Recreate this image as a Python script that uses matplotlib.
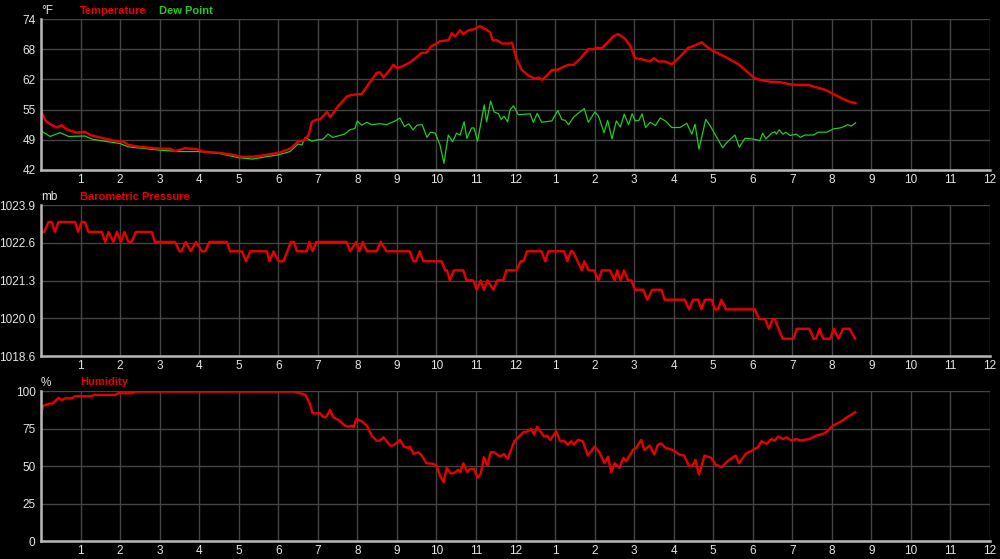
import matplotlib
matplotlib.use('Agg')
import matplotlib.pyplot as plt

# hours since midnight
temp_hours = [0.0, 0.1, 0.23, 0.4, 0.52, 0.65, 0.9, 1.11, 1.24, 1.49, 1.83, 2.08, 2.21, 2.5, 3.0,
              3.26, 3.39, 3.64, 3.94, 4.1, 4.53, 4.86, 5.03, 5.37, 5.71, 6.04, 6.3, 6.5, 6.63,
              6.77, 6.85, 6.97, 7.06, 7.23, 7.32, 7.53, 7.74, 7.86, 8.11, 8.32, 8.49, 8.57,
              8.66, 8.83, 8.91, 9.01, 9.17, 9.33, 9.5, 9.62, 9.75, 9.87, 10.0, 10.09, 10.3,
              10.39, 10.47, 10.6, 10.68, 10.81, 10.98, 11.1, 11.23, 11.36, 11.42, 11.53,
              11.66, 11.83, 11.91, 12.02, 12.16, 12.33, 12.5, 12.58, 12.67, 12.79, 12.92,
              13.05, 13.22, 13.34, 13.47, 13.64, 13.84, 13.97, 14.05, 14.18, 14.3, 14.47,
              14.6, 14.77, 14.9, 15.02, 15.23, 15.4, 15.5, 15.61, 15.78, 15.95, 16.16, 16.37,
              16.54, 16.71, 16.84, 17.01, 17.18, 17.39, 17.64, 17.85, 18.02, 18.18, 18.44,
              18.7, 18.9, 19.16, 19.41, 19.62, 19.83, 20.04, 20.25, 20.46, 20.6]
temperature = [54.7, 52.6, 51.7, 51.0, 51.5, 50.6, 49.9, 50.1, 49.4, 48.9, 48.2, 48.0, 47.3, 46.9,
               46.5, 46.5, 46.0, 46.6, 46.4, 45.9, 45.6, 45.2, 44.8, 44.8, 45.2, 45.7, 46.5,
               48.0, 48.2, 49.4, 52.2, 52.7, 52.7, 54.3, 53.2, 55.7, 57.6, 57.9, 58.1, 60.6,
               62.6, 62.7, 61.6, 63.3, 64.3, 63.6, 64.1, 64.8, 65.9, 66.8, 66.9, 68.2, 68.8,
               69.3, 69.5, 71.0, 70.3, 71.6, 70.8, 71.6, 71.9, 72.5, 71.9, 71.2, 69.5, 69.5,
               68.8, 68.8, 69.0, 65.7, 63.2, 62.0, 61.3, 61.6, 61.1, 62.0, 63.2, 63.2, 63.9,
               64.3, 64.3, 65.6, 67.6, 67.6, 67.9, 67.8, 68.8, 70.3, 70.8, 69.8, 68.3, 65.7,
               65.4, 65.0, 65.7, 65.0, 65.0, 64.4, 66.0, 67.9, 68.4, 69.1, 68.1, 67.2, 66.5,
               65.6, 64.4, 62.9, 61.6, 61.1, 60.7, 60.6, 60.2, 60.0, 60.0, 59.5, 59.0, 58.1,
               57.2, 56.4, 56.2]

dew_hours = [0.0, 0.23, 0.48, 0.7, 1.11, 1.3, 1.6, 2.0, 2.2, 3.0, 3.5, 4.0, 4.5, 5.0, 5.35, 5.7,
             6.0, 6.3, 6.5, 6.6, 6.68, 6.85, 7.0, 7.13, 7.26, 7.38, 7.55, 7.68, 7.81, 7.94, 8.0,
             8.11, 8.24, 8.36, 8.57, 8.74, 8.96, 9.08, 9.19, 9.3, 9.41, 9.51, 9.64, 9.76, 9.85,
             9.97, 10.09, 10.19, 10.3, 10.41, 10.51, 10.6, 10.7, 10.77, 10.89, 10.95, 11.04,
             11.21, 11.27, 11.37, 11.46, 11.57, 11.64, 11.71, 11.8, 11.86, 11.95, 12.07, 12.37,
             12.45, 12.55, 12.66, 12.92, 13.07, 13.17, 13.26, 13.34, 13.47, 13.6, 13.74, 13.84,
             14.01, 14.1, 14.24, 14.33, 14.44, 14.55, 14.65, 14.75, 14.86, 14.95, 15.03, 15.12,
             15.2, 15.29, 15.41, 15.54, 15.66, 15.79, 15.95, 16.16, 16.33, 16.46, 16.54, 16.64,
             16.81, 16.92, 17.09, 17.24, 17.34, 17.55, 17.66, 17.8, 17.97, 18.1, 18.18, 18.25,
             18.33, 18.48, 18.56, 18.6, 18.67, 18.76, 18.84, 18.94, 19.11, 19.2, 19.32, 19.53,
             19.66, 19.87, 20.04, 20.21, 20.34, 20.4, 20.49, 20.6]
dew_point = [50.3, 49.1, 49.9, 49.1, 49.2, 48.5, 48.1, 47.6, 46.9, 46.2, 45.9, 45.9, 45.5, 44.6,
             44.3, 44.8, 45.2, 45.9, 47.5, 47.3, 48.9, 48.1, 48.4, 48.5, 49.6, 48.9, 49.3, 49.6,
             50.5, 50.8, 52.4, 51.5, 52.1, 51.6, 51.8, 51.6, 52.4, 53.0, 51.2, 51.8, 50.5, 51.5,
             51.6, 48.9, 50.0, 49.8, 47.3, 43.4, 49.4, 48.0, 49.8, 49.4, 52.2, 48.7, 50.9, 50.9,
             48.1, 55.8, 52.2, 56.6, 54.3, 53.9, 52.7, 53.4, 52.2, 54.7, 55.6, 53.7, 53.9, 52.1,
             54.0, 52.1, 52.4, 54.6, 52.7, 52.5, 51.6, 53.2, 54.1, 55.0, 52.1, 54.3, 53.4, 49.9,
             52.5, 48.6, 52.4, 51.1, 53.8, 51.6, 53.9, 52.4, 52.5, 53.9, 51.0, 52.1, 51.4, 53.0,
             52.4, 51.0, 51.0, 51.9, 49.6, 51.7, 46.4, 52.7, 51.4, 48.9, 46.7, 47.8, 49.4, 46.8,
             48.7, 48.6, 48.4, 48.2, 49.8, 48.6, 49.8, 50.1, 49.6, 50.5, 49.6, 50.0, 49.3, 49.6,
             48.9, 49.4, 49.4, 50.0, 50.0, 50.7, 50.9, 51.3, 51.6, 51.3, 52.0]

pressure_hours = [0.0, 0.08, 0.19, 0.27, 0.35, 0.44, 0.86, 0.94, 1.03, 1.11, 1.2, 1.54, 1.62, 1.71,
                  1.83, 1.92, 2.02, 2.11, 2.21, 2.29, 2.4, 2.8, 2.88, 3.39, 3.5, 3.55, 3.66, 3.79,
                  3.92, 4.07, 4.15, 4.26, 4.7, 4.78, 5.08, 5.19, 5.29, 5.71, 5.78, 5.88, 6.01,
                  6.13, 6.23, 6.32, 6.4, 6.47, 6.72, 6.79, 6.87, 6.96, 7.73, 7.82, 7.97, 8.05,
                  8.14, 8.24, 8.49, 8.59, 8.74, 9.32, 9.42, 9.48, 9.58, 9.67, 10.13, 10.22, 10.27,
                  10.34, 10.44, 10.68, 10.76, 10.93, 11.02, 11.12, 11.2, 11.29, 11.44, 11.54,
                  11.69, 11.77, 12.02, 12.13, 12.2, 12.29, 12.66, 12.75, 12.83, 13.23, 13.31,
                  13.4, 13.45, 13.57, 13.68, 13.74, 13.85, 13.99, 14.1, 14.18, 14.39, 14.51,
                  14.57, 14.66, 14.74, 14.85, 14.93, 15.02, 15.23, 15.33, 15.46, 15.69, 15.77,
                  16.28, 16.39, 16.49, 16.62, 16.7, 16.79, 16.96, 17.04, 17.12, 17.21, 17.32,
                  18.05, 18.16, 18.31, 18.41, 18.5, 18.56, 18.65, 18.76, 19.03, 19.11, 19.43,
                  19.54, 19.6, 19.69, 19.78, 19.96, 20.05, 20.17, 20.28, 20.45, 20.59]
pressure = [1022.96, 1022.96, 1023.31, 1023.31, 1022.96, 1023.31, 1023.31, 1022.96, 1023.31,
            1023.31, 1022.96, 1022.96, 1022.61, 1022.96, 1022.61, 1022.96, 1022.61, 1022.96,
            1022.61, 1022.61, 1022.96, 1022.96, 1022.61, 1022.61, 1022.28, 1022.28, 1022.61,
            1022.28, 1022.61, 1022.28, 1022.28, 1022.61, 1022.61, 1022.28, 1022.28, 1021.93,
            1022.28, 1022.28, 1021.93, 1022.28, 1021.93, 1021.93, 1022.28, 1022.61, 1022.61,
            1022.28, 1022.28, 1022.61, 1022.28, 1022.61, 1022.61, 1022.28, 1022.61, 1022.28,
            1022.61, 1022.28, 1022.28, 1022.61, 1022.28, 1022.28, 1021.93, 1021.93, 1022.28,
            1021.93, 1021.93, 1021.61, 1021.61, 1021.26, 1021.61, 1021.61, 1021.26, 1021.26,
            1020.93, 1021.26, 1020.93, 1021.26, 1020.93, 1021.26, 1021.26, 1021.61, 1021.61,
            1021.93, 1021.93, 1022.28, 1022.28, 1021.93, 1022.28, 1022.28, 1021.93, 1022.28,
            1022.28, 1021.93, 1021.61, 1021.93, 1021.61, 1021.61, 1021.26, 1021.61, 1021.61,
            1021.26, 1021.61, 1021.26, 1021.61, 1021.26, 1021.26, 1020.93, 1020.93, 1020.58,
            1020.93, 1020.93, 1020.58, 1020.58, 1020.24, 1020.58, 1020.58, 1020.24, 1020.58,
            1020.58, 1020.24, 1020.24, 1020.58, 1020.24, 1020.24, 1019.90, 1019.90, 1019.56,
            1019.90, 1019.90, 1019.56, 1019.21, 1019.21, 1019.56, 1019.56, 1019.21, 1019.21,
            1019.56, 1019.21, 1019.21, 1019.56, 1019.21, 1019.56, 1019.56, 1019.21]

humid_hours = [0.0, 0.06, 0.19, 0.3, 0.44, 0.52, 0.61, 0.78, 0.86, 1.24, 1.37, 1.87, 1.96, 2.3,
               2.38, 6.42, 6.55, 6.68, 6.8, 6.87, 7.06, 7.14, 7.21, 7.31, 7.39, 7.52, 7.69, 7.77,
               7.86, 7.9, 7.98, 8.11, 8.24, 8.36, 8.49, 8.57, 8.66, 8.83, 8.91, 9.08, 9.18, 9.29,
               9.33, 9.42, 9.54, 9.63, 9.75, 9.92, 10.0, 10.09, 10.18, 10.26, 10.36, 10.44,
               10.55, 10.6, 10.68, 10.78, 10.85, 10.95, 11.04, 11.12, 11.2, 11.29, 11.37, 11.46,
               11.61, 11.71, 11.8, 11.97, 12.2, 12.29, 12.39, 12.47, 12.55, 12.72, 12.8, 12.88,
               13.03, 13.13, 13.24, 13.32, 13.41, 13.47, 13.58, 13.7, 13.83, 14.0, 14.12, 14.25,
               14.34, 14.42, 14.51, 14.63, 14.73, 14.8, 14.97, 15.05, 15.18, 15.26, 15.39,
               15.51, 15.6, 15.68, 15.8, 15.97, 16.14, 16.27, 16.38, 16.48, 16.55, 16.64, 16.78,
               16.95, 17.06, 17.21, 17.38, 17.57, 17.65, 17.84, 18.01, 18.13, 18.22, 18.35,
               18.47, 18.56, 18.64, 18.77, 18.85, 18.98, 19.11, 19.19, 19.44, 19.61, 19.82,
               19.94, 20.03, 20.24, 20.41, 20.59]
humidity = [85.3, 90.4, 91.6, 92.0, 95.6, 94.2, 95.3, 95.3, 96.7, 96.7, 97.6, 97.6, 98.7, 98.7,
            99.8, 99.8, 98.7, 97.8, 91.6, 85.3, 85.3, 82.7, 82.7, 87.6, 82.7, 80.9, 77.1, 76.4,
            77.1, 76.0, 81.6, 80.0, 77.1, 70.4, 67.1, 67.1, 69.3, 63.8, 63.8, 67.6, 63.1, 62.2,
            63.1, 58.2, 59.3, 57.1, 52.0, 51.6, 50.4, 43.8, 39.3, 48.9, 45.3, 45.3, 47.6, 46.0,
            52.0, 46.0, 48.2, 48.2, 42.2, 44.9, 56.0, 50.4, 59.3, 59.3, 56.4, 58.2, 54.9, 66.7,
            72.7, 73.1, 74.9, 71.1, 76.4, 69.8, 70.4, 67.6, 73.3, 66.7, 66.7, 64.4, 66.7, 64.4,
            67.6, 66.7, 57.1, 63.1, 59.3, 52.0, 56.4, 46.0, 52.0, 48.9, 55.6, 53.3, 60.9, 62.2,
            67.6, 60.9, 63.8, 57.8, 64.4, 65.3, 62.2, 60.9, 57.8, 57.1, 50.4, 50.4, 54.2, 44.4,
            57.1, 55.6, 51.1, 49.3, 53.8, 57.1, 52.0, 58.7, 60.9, 62.7, 66.7, 64.9, 68.2, 67.1,
            69.8, 68.2, 69.3, 67.1, 68.2, 67.1, 68.2, 70.4, 72.0, 74.9, 77.1, 80.0, 83.1, 86.0]

hour_labels = [''] + [str(h) for h in range(1, 13)] + [str(h) for h in range(1, 13)]
temp_ticks = [42, 48.4, 54.8, 61.2, 67.6, 74]
temp_labels = ['42', '49', '55', '62', '68', '74']
press_ticks = [1018.6, 1019.925, 1021.25, 1022.575, 1023.9]
press_labels = ['1018.6', '1020.0', '1021.3', '1022.6', '1023.9']
humid_ticks = [0, 25, 50, 75, 100]
humid_labels = ['0', '25', '50', '75', '100']

RED = '#e80000'
GREEN = '#22cc22'
plt.rcParams['font.family'] = ['Liberation Sans', 'DejaVu Sans']


def setup(ax, ticks, labels, unit):
    ax.set_facecolor('black')
    ax.set_xlim(0, 24)
    ax.set_ylim(ticks[0], ticks[-1])
    ax.set_xticks(range(25))
    ax.set_xticklabels(hour_labels)
    ax.set_yticks(ticks)
    ax.set_yticklabels(labels)
    ax.tick_params(colors='#e6e6e6', labelsize=8.5, length=0)
    ax.tick_params(axis='y', pad=4)
    ax.tick_params(axis='x', pad=3)
    ax.grid(True, color='#444444', linewidth=1)
    ax.set_axisbelow(True)
    for s in ['top', 'right']:
        ax.spines[s].set_visible(False)
    for s in ['left', 'bottom']:
        ax.spines[s].set_color('#b8b8b8')
        ax.spines[s].set_linewidth(1.8)
    ax.text(0.0, 1.055, unit, transform=ax.transAxes, color='#e6e6e6',
            fontsize=8.5, ha='left', va='center')


fig = plt.figure(figsize=(10, 5.59), dpi=100, facecolor='black')
ax1 = fig.add_axes([0.041, 0.696, 0.949, 0.270])
ax2 = fig.add_axes([0.041, 0.363, 0.949, 0.270])
ax3 = fig.add_axes([0.041, 0.032, 0.949, 0.268])

setup(ax1, temp_ticks, temp_labels, '°F')
ax1.plot(dew_hours, dew_point, color=GREEN, linewidth=0.9)
ax1.plot(temp_hours, temperature, color=RED, linewidth=1.7)
ax1.text(0.041, 1.055, 'Temperature', transform=ax1.transAxes, color=RED,
         fontsize=8, fontweight='bold', va='center')
ax1.text(0.124, 1.055, 'Dew Point', transform=ax1.transAxes, color=GREEN,
         fontsize=8, fontweight='bold', va='center')

setup(ax2, press_ticks, press_labels, 'mb')
ax2.plot(pressure_hours, pressure, color=RED, linewidth=1.7)
ax2.text(0.041, 1.055, 'Barometric Pressure', transform=ax2.transAxes, color=RED,
         fontsize=8, fontweight='bold', va='center')

setup(ax3, humid_ticks, humid_labels, '%')
ax3.plot(humid_hours, humidity, color=RED, linewidth=1.7)
ax3.text(0.041, 1.06, 'Humidity', transform=ax3.transAxes, color=RED,
         fontsize=8, fontweight='bold', va='center')

fig.savefig('out.png', dpi=100, facecolor='black')
